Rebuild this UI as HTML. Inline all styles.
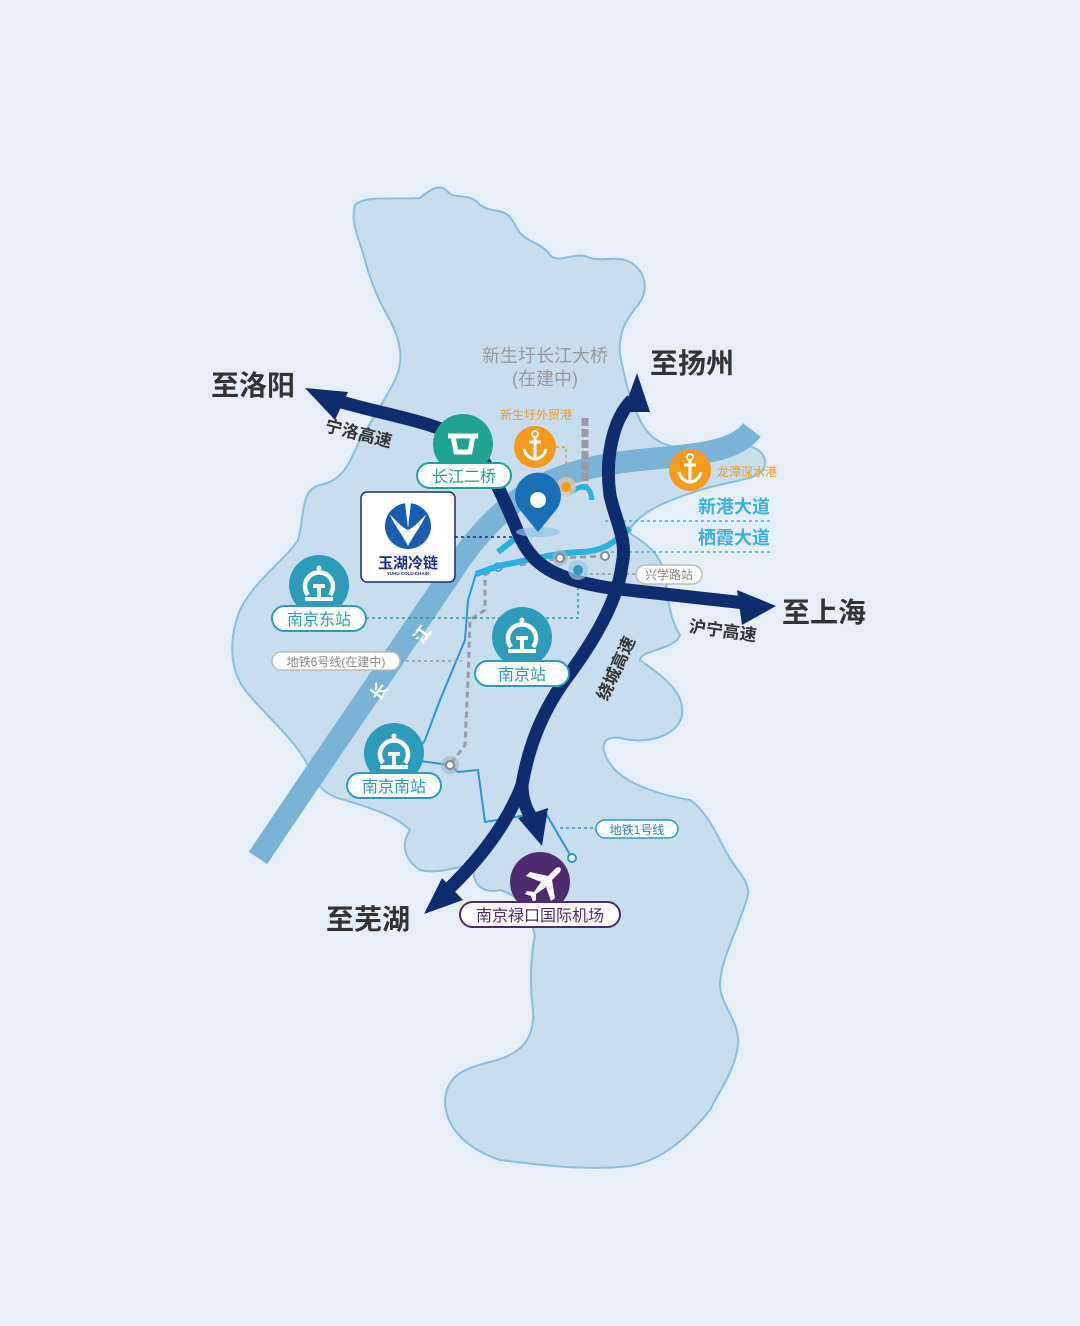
<!DOCTYPE html>
<html><head><meta charset="utf-8"><style>
html,body{margin:0;padding:0;background:#e6eff7;}
svg{display:block}
text{font-family:"Liberation Sans","Noto Sans CJK SC",sans-serif;}
</style></head><body>
<svg width="1080" height="1326" viewBox="0 0 1080 1326" xmlns="http://www.w3.org/2000/svg">
<rect width="1080" height="1326" fill="#e6eff7"/>
<path d="M355,205 C365,195 395,200 420,198 C430,190 440,182 448,192 C455,200 470,192 480,205 C495,215 505,205 515,225 C525,245 540,240 550,255 C560,265 575,250 590,258 C605,262 615,255 630,262 C645,270 650,290 638,305 C625,320 618,335 620,355 C625,380 630,400 640,420 C650,440 665,450 700,448 C730,445 760,440 765,460 C768,480 740,478 700,490 C670,500 640,510 628,532 C640,540 660,550 665,575 C668,600 670,620 680,635 C675,650 640,650 640,660 C660,675 685,690 682,715 C678,735 650,745 620,738 C600,735 598,750 615,770 C630,785 660,795 690,800 C705,810 715,830 725,850 C735,870 750,880 748,895 C742,920 720,960 720,985 C720,1005 740,1020 738,1045 C735,1070 720,1090 710,1110 C690,1135 660,1165 620,1167 C580,1170 540,1165 500,1160 C470,1150 445,1130 445,1100 C447,1075 465,1068 490,1062 C520,1055 535,1040 533,1010 C530,985 530,960 535,935 C530,915 520,895 500,890 C480,895 470,880 475,865 C460,865 440,875 420,870 C405,860 400,845 410,830 C395,815 370,808 345,800 C320,795 315,780 305,760 C290,735 265,715 245,690 C230,670 228,640 240,610 C255,580 285,560 298,540 C305,515 300,490 320,485 C345,480 350,460 360,440 C372,420 385,400 395,380 C405,360 400,340 390,320 C378,300 370,280 365,260 C360,240 350,225 355,205 Z" fill="#c8deee" stroke="#8bbedd" stroke-width="2"/>
<path d="M258,858 C330,750 400,650 460,560 C510,490 560,468 640,460 C700,454 735,452 752,430" fill="none" stroke="#7ab3d5" stroke-width="22"/>
<text x="380" y="697" font-size="17" font-weight="bold" fill="#fff" transform="rotate(-55 380 692)" text-anchor="middle">长</text>
<text x="423" y="640" font-size="17" font-weight="bold" fill="#fff" transform="rotate(-55 423 635)" text-anchor="middle">江</text>
<path d="M498,567 L476,574 L468,600 L465,640 L440,700 L425,740 L412,760 L450,765 L458,772 L478,770 L485,822 L545,812 L572,858" fill="none" stroke="#2b97cf" stroke-width="2"/>
<circle cx="572" cy="858" r="4" fill="#fff" stroke="#2b97cf" stroke-width="2"/>
<circle cx="498" cy="567" r="4" fill="#fff" stroke="#2b97cf" stroke-width="1.5"/>
<path d="M498,567 L485,575 L485,610 L470,620 L468,680 L465,745 L450,765" fill="none" stroke="#9a9aa6" stroke-width="3" stroke-dasharray="6,4"/>
<path d="M560,558 L605,556" fill="none" stroke="#9a9aa6" stroke-width="3" stroke-dasharray="6,4"/>
<path d="M520,565 L560,558" fill="none" stroke="#9a9aa6" stroke-width="3" stroke-dasharray="6,4"/>
<path d="M585,418 L585,490" fill="none" stroke="#9a9aa6" stroke-width="7" stroke-dasharray="8,3"/>
<path d="M476,574 L498,566 C530,560 555,553 580,552 C600,552 612,545 630,528" fill="none" stroke="#2ab1dd" stroke-width="6"/>
<path d="M498,552 L520,535" fill="none" stroke="#2ab1dd" stroke-width="6"/>
<path d="M570,493 C580,485 590,482 592,500" fill="none" stroke="#2ab1dd" stroke-width="5"/>
<path d="M605,521 L773,521 M605,552 L773,552" stroke="#3ab0dc" stroke-width="1.5" stroke-dasharray="3,3"/>
<path d="M366,618 L578,618 L578,570" fill="none" stroke="#1fa390" stroke-width="1.5" stroke-dasharray="3,3"/>
<path d="M400,661 L462,661" stroke="#999" stroke-width="1.5" stroke-dasharray="3,3"/>
<path d="M560,574 L636,574" stroke="#999" stroke-width="1.5" stroke-dasharray="3,3"/>
<path d="M455,537 L520,537" stroke="#1a2f6e" stroke-width="1.5" stroke-dasharray="3,3"/>
<path d="M560,828 L596,828" stroke="#2b97cf" stroke-width="1.5" stroke-dasharray="3,3"/>
<path d="M556,447 L566,447 L566,487" fill="none" stroke="#f39a1f" stroke-width="1.5" stroke-dasharray="3,3"/>
<g fill="none" stroke="#0f2d6e" stroke-width="13">
<path d="M325,397 C380,415 425,418 465,440 C485,455 500,490 515,525 C528,560 545,578 610,588 L745,603"/>
<path d="M632,400 C612,420 605,460 610,495 C615,520 628,540 622,565 C618,600 595,640 565,680 C540,715 528,750 522,785 C505,830 470,870 440,897"/>
<path d="M522,785 C522,805 530,815 536,825"/>
</g>
<g fill="#0f2d6e">
<polygon points="305,388 348,392 335,420"/>
<polygon points="637,373 623,412 650,412"/>
<polygon points="776,606 737,590 742,625"/>
<polygon points="424,914 442,878 463,900"/>
<polygon points="542,846 518,818 548,808"/>
</g>
<text x="323" y="440" font-size="17" font-weight="bold" fill="#333" transform="rotate(14 360 440)">宁洛高速</text>
<text x="688" y="637" font-size="17" font-weight="bold" fill="#333" transform="rotate(8 725 637)">沪宁高速</text>
<text x="615" y="675" font-size="17" font-weight="bold" fill="#333" transform="rotate(-65 615 668)" text-anchor="middle">绕城高速</text>
<circle cx="560" cy="558" r="8" fill="#9ab4c8" opacity="0.6"/>
<circle cx="560" cy="558" r="4" fill="#fff" stroke="#888" stroke-width="2"/>
<circle cx="605" cy="556" r="4" fill="#fff" stroke="#888" stroke-width="2"/>
<circle cx="578" cy="570" r="10" fill="#9ecbe0" opacity="0.7"/>
<circle cx="578" cy="570" r="5" fill="#2e9bbb"/>
<circle cx="450" cy="765" r="9" fill="#9ab4c8" opacity="0.6"/>
<circle cx="450" cy="765" r="4" fill="#fff" stroke="#888" stroke-width="2"/>
<circle cx="566" cy="487" r="10" fill="#d8c9a8" opacity="0.8"/>
<circle cx="566" cy="487" r="5" fill="#f39a1f"/>
<ellipse cx="538" cy="532" rx="22" ry="5" fill="#8fc3e6" opacity="0.7"/>
<path d="M538,532 L520,510 A23,23 0 1,1 556,510 Z" fill="#1a6fb5"/>
<circle cx="538" cy="500" r="8" fill="#fff"/>
<g id="tr">
<circle cx="319" cy="585" r="30" fill="#2e9bbb"/>
<path d="M308,595 A14,14 0 1,1 330,595" fill="none" stroke="#fff" stroke-width="4.5"/>
<path d="M319,586 L319,597 M313,586 L325,586 M305,599 L333,599" stroke="#fff" stroke-width="4"/>
<circle cx="319" cy="568" r="2.5" fill="#fff"/>
</g>
<use href="#tr" transform="translate(203,52)"/>
<use href="#tr" transform="translate(75,168)"/>
<circle cx="463" cy="444" r="30" fill="#1fa390"/>
<path d="M448,436 L478,436 M453,436 L456,452 L470,452 L473,436" fill="none" stroke="#fff" stroke-width="5"/>
<g id="an">
<circle cx="535" cy="447" r="21" fill="#f39a1f"/>
<circle cx="535" cy="434" r="3" fill="none" stroke="#fff" stroke-width="2"/>
<path d="M535,437 L535,459 M529,442 L541,442 M524,449 C526,457 532,459 535,459 C538,459 544,457 546,449" fill="none" stroke="#fff" stroke-width="3"/>
</g>
<use href="#an" transform="translate(155,23)"/>
<circle cx="540" cy="882" r="30" fill="#4e2a6e"/>
<path d="M556,868 L548,876 L530,872 L526,876 L541,882 L534,892 L527,891 L525,894 L531,896 L533,902 L536,900 L536,894 L546,887 L551,901 L555,898 L552,880 L560,872 C562,868 560,866 556,868 Z" fill="#fff"/>
<rect x="361" y="492" width="94" height="90" rx="6" fill="#fff" stroke="#1a2f6e" stroke-width="1.5"/>
<circle cx="408" cy="526" r="23" fill="#1a5cb0"/>
<path d="M390,515 C396,528 402,534 408,546 C414,534 420,528 426,515 C420,520 416,526 408,530 C400,526 396,520 390,515 Z" fill="#fff"/>
<path d="M405,503 L408,528 L411,503 Z" fill="#fff"/>
<text x="408" y="568" font-size="15" font-weight="bold" fill="#1a2f8e" text-anchor="middle">玉湖冷链</text>
<text x="408" y="575" font-size="4.5" font-weight="bold" fill="#1a2f8e" text-anchor="middle">YUHU COLD CHAIN</text>
<g font-size="16" text-anchor="middle">
<rect x="417" y="463" width="94" height="25" rx="12.5" fill="#fff" stroke="#1fa390" stroke-width="2"/>
<text x="464" y="482" fill="#1fa390">长江二桥</text>
<rect x="272" y="606" width="94" height="25" rx="12.5" fill="#fff" stroke="#2e9bbb" stroke-width="2"/>
<text x="319" y="625" fill="#2e9bbb">南京东站</text>
<rect x="475" y="661" width="94" height="25" rx="12.5" fill="#fff" stroke="#2e9bbb" stroke-width="2"/>
<text x="522" y="680" fill="#2e9bbb">南京站</text>
<rect x="347" y="773" width="94" height="25" rx="12.5" fill="#fff" stroke="#2e9bbb" stroke-width="2"/>
<text x="394" y="792" fill="#2e9bbb">南京南站</text>
<rect x="460" y="902" width="160" height="25" rx="12.5" fill="#fff" stroke="#4e2a6e" stroke-width="2"/>
<text x="540" y="921" fill="#4e2a6e">南京禄口国际机场</text>
</g>
<g font-size="12" text-anchor="middle">
<rect x="636" y="565" width="66" height="19" rx="9.5" fill="#fff" stroke="#bbb" stroke-width="1.5"/>
<text x="669" y="579" fill="#888">兴学路站</text>
<rect x="272" y="652" width="128" height="18" rx="9" fill="#fff" stroke="#bbb" stroke-width="1.5"/>
<text x="336" y="666" fill="#888">地铁6号线(在建中)</text>
<rect x="596" y="820" width="82" height="18" rx="9" fill="#fff" stroke="#2b97cf" stroke-width="1.5"/>
<text x="637" y="834" fill="#2b7fc0">地铁1号线</text>
</g>
<g font-size="28" font-weight="bold" fill="#333">
<text x="211" y="395">至洛阳</text>
<text x="650" y="373">至扬州</text>
<text x="782" y="622">至上海</text>
<text x="326" y="929">至芜湖</text>
</g>
<text x="545" y="362" font-size="18" fill="#999" text-anchor="middle">新生圩长江大桥</text>
<text x="545" y="385" font-size="18" fill="#999" text-anchor="middle">(在建中)</text>
<text x="536" y="419" font-size="12" fill="#f39a1f" text-anchor="middle">新生圩外贸港</text>
<text x="717" y="476" font-size="12" fill="#f39a1f">龙潭深水港</text>
<text x="698" y="513" font-size="18" font-weight="bold" fill="#3ab0dc">新港大道</text>
<text x="698" y="544" font-size="18" font-weight="bold" fill="#3ab0dc">栖霞大道</text>
</svg>
</body></html>
